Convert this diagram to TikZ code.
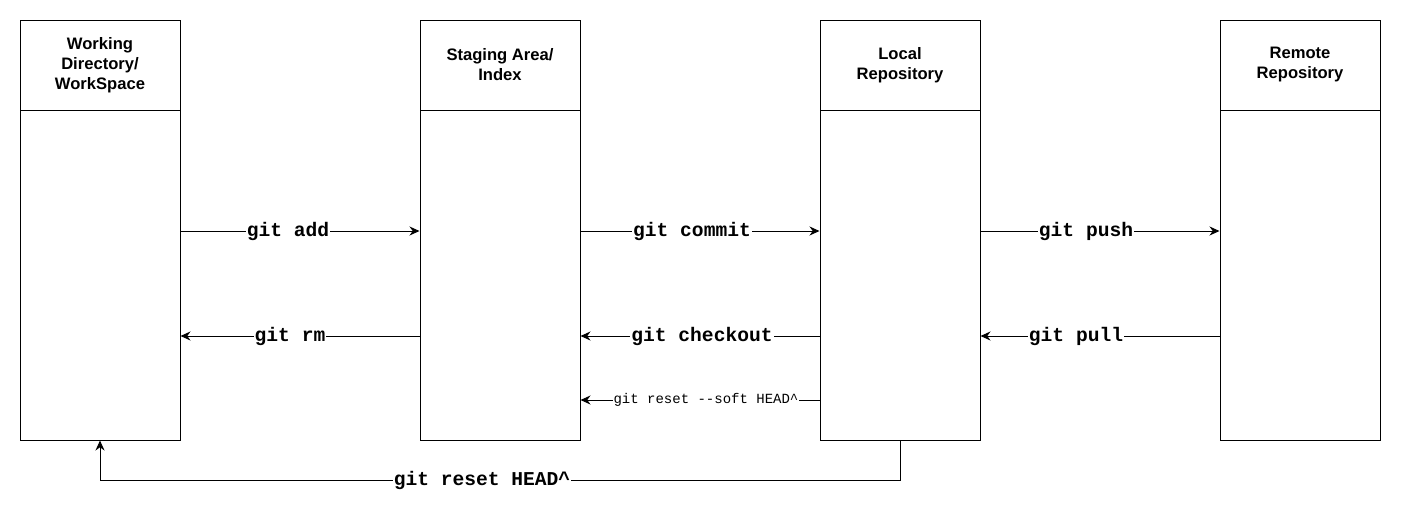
\documentclass[tikz,border=0pt]{standalone}
\usepackage{fontspec}
\setmainfont{Liberation Sans}
\newfontfamily\gitfont{Liberation Mono}
\usetikzlibrary{arrows.meta}
\begin{document}
\begin{tikzpicture}[x=0.5pt,y=-0.5pt,
    line width=0.5pt,
    >={Stealth[length=5pt,width=4.5pt]},
    head/.style={draw,minimum width=80pt,minimum height=45pt,inner sep=0pt,
        align=center,font=\bfseries\fontsize{8.3}{10}\selectfont},
    body/.style={draw,minimum width=80pt,minimum height=165pt,inner sep=0pt},
    cmd/.style={fill=white,inner sep=0.5pt,font=\gitfont\bfseries\fontsize{9.8}{10}\selectfont},
    smallcmd/.style={fill=white,inner sep=0.5pt,font=\gitfont\fontsize{7}{8}\selectfont}]
    \useasboundingbox (0,0) rectangle (1402,515);
    \begin{scope}
        \node[head] (wdh) at (100,65) {Working\\Directory/\\WorkSpace};
        \node[head] (stageh) at (500,65) {Staging Area/\\Index};
        \node[head] (localh) at (900,65) {Local\\Repository};
        \node[head] (remoteh) at (1300,65) {Remote\\Repository};
        \node[body] (wd) at (100,275) {};
        \node[body] (stage) at (500,275) {};
        \node[body] (local) at (900,275) {};
        \node[body] (remote) at (1300,275) {};
    \end{scope}
    \coordinate (row1) at (0,231);
    \coordinate (row2) at (0,336);
    \coordinate (row3) at (0,400);
    \begin{scope}
        \path
            (wd.east |- row1) edge[->] node[cmd,xshift=-6pt] {git add} (stage.west |- row1)
            (stage.east |- row1) edge[->] node[cmd,xshift=-4pt] {git commit} (local.west |- row1)
            (local.east |- row1) edge[->] node[cmd,xshift=-7pt] {git push} (remote.west |- row1)
            (stage.west |- row2) edge[->] node[cmd,xshift=-5pt] {git rm} (wd.east |- row2)
            (local.west |- row2) edge[->] node[cmd,xshift=1pt] {git checkout} (stage.east |- row2)
            (remote.west |- row2) edge[->] node[cmd,xshift=-12pt] {git pull} (local.east |- row2)
            (local.west |- row3) edge[->] node[smallcmd,xshift=3pt] {git reset --soft HEAD\^{}} (stage.east |- row3);
        \draw[->] (local.south) -- ++(0,40) -| node[cmd,pos=0.25,xshift=-9pt] {git reset HEAD\^{}} (wd.south);
    \end{scope}
\end{tikzpicture}
\end{document}
